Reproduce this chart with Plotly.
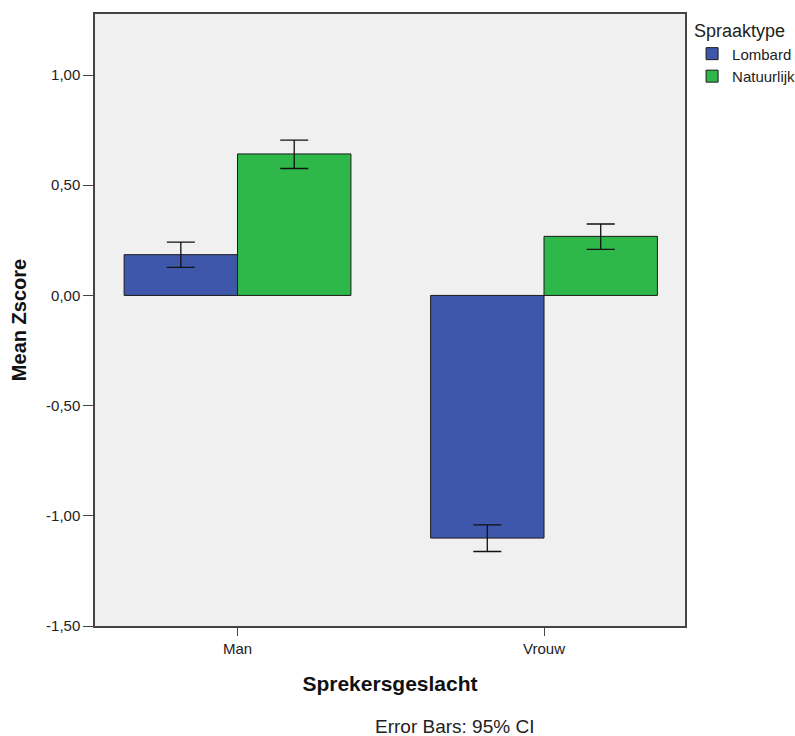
import plotly.graph_objects as go

categories = ["Man", "Vrouw"]
series_names = ["Lombard", "Natuurlijk"]
lombard_mean = [0.185, -1.101]
lombard_upper = [0.242, -1.041]
lombard_lower = [0.127, -1.162]
natuurlijk_mean = [0.642, 0.268]
natuurlijk_upper = [0.705, 0.324]
natuurlijk_lower = [0.576, 0.209]
y_ticks = [-1.5, -1.0, -0.5, 0.0, 0.5, 1.0]
y_tick_labels = [f"{v:.2f}".replace(".", ",") for v in y_ticks]

colors = ["#3E57AB", "#2EB84A"]

fig = go.Figure()
for name, mean, up, lo, col in [
    (series_names[0], lombard_mean, lombard_upper, lombard_lower, colors[0]),
    (series_names[1], natuurlijk_mean, natuurlijk_upper, natuurlijk_lower, colors[1]),
]:
    fig.add_trace(go.Bar(
        x=categories, y=mean, name=name,
        marker=dict(color=col, line=dict(color="#1a1a1a", width=1)),
        error_y=dict(type="data", symmetric=False,
                     array=[u - m for u, m in zip(up, mean)],
                     arrayminus=[m - l for m, l in zip(mean, lo)],
                     color="#111111", thickness=1.3, width=14),
    ))

fig.update_layout(
    width=795, height=736,
    margin=dict(l=95, r=110, t=14, b=110, autoexpand=False),
    paper_bgcolor="white", plot_bgcolor="#F0F0F0",
    barmode="group", bargap=0.26, bargroupgap=0,
    font=dict(family="Liberation Sans, Arial, sans-serif", size=15, color="#333333"),
    legend=dict(title=dict(text="Spraaktype", font=dict(size=18, color="#222222")),
                x=1.012, y=1.0, xanchor="left", yanchor="top",
                font=dict(size=15, color="#222222"), tracegroupgap=0,
                itemwidth=30),
    showlegend=True,
    annotations=[dict(text="Error Bars: 95% CI", xref="paper", yref="paper",
                      x=0.6085, y=0, yshift=-100, xanchor="center", yanchor="middle",
                      showarrow=False, font=dict(size=19, color="#222222"))],
)
fig.update_xaxes(
    range=[-0.465, 1.46], automargin=False,
    showline=True, linecolor="#444444", linewidth=1.5, mirror=True,
    ticks="outside", ticklen=8, tickcolor="#444444",
    tickfont=dict(size=15, color="#222222"),
    title=dict(text="<b>Sprekersgeslacht</b>", font=dict(size=21, color="#111111"), standoff=21),
    showgrid=False,
)
fig.update_yaxes(
    range=[-1.5, 1.277], tickvals=y_ticks, ticktext=y_tick_labels, automargin=False,
    showline=True, linecolor="#444444", linewidth=1.5, mirror=True,
    ticks="outside", ticklen=10, tickcolor="#444444",
    tickfont=dict(size=15, color="#222222"),
    title=dict(text="<b>Mean Zscore</b>", font=dict(size=20, color="#111111"), standoff=14),
    showgrid=False, zeroline=False,
)

fig.write_html("out.html", config={"displayModeBar": False},
               post_script="document.body.style.margin='0';")
